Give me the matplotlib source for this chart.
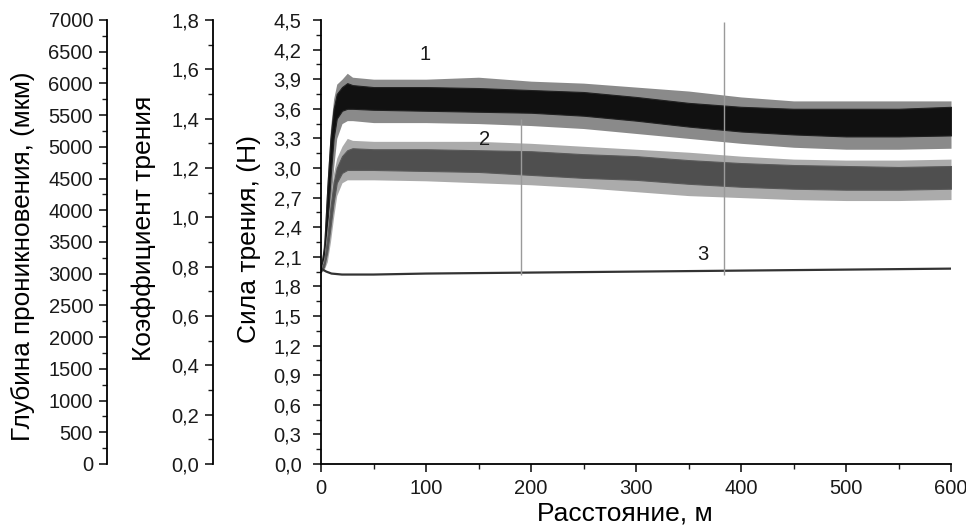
import matplotlib
matplotlib.use('Agg')
import matplotlib.pyplot as plt
from matplotlib.ticker import MultipleLocator, FuncFormatter

plt.rcParams.update({'font.family': ['Liberation Sans', 'DejaVu Sans'], 'font.size': 14.5,
                     'axes.linewidth': 1.3, 'xtick.major.width': 1.2, 'ytick.major.width': 1.2,
                     'xtick.minor.width': 1.0, 'ytick.minor.width': 1.0,
                     'text.color': '#1a1a1a', 'xtick.color': '#1a1a1a', 'ytick.color': '#1a1a1a'})

# distance, m (envelope sample points)
dist = [0, 3, 6, 9, 12, 15, 20, 25, 30, 50, 100, 150, 200, 250, 300, 350, 400, 450, 500, 550, 600]

# curve 1 - friction force band (core and spike envelopes), N
f1_core_top = [2.0, 2.2, 2.8, 3.3, 3.6, 3.75, 3.82, 3.86, 3.84, 3.82, 3.82, 3.81, 3.79, 3.77, 3.72, 3.66, 3.62, 3.6, 3.6, 3.6, 3.62]
f1_core_bot = [1.98, 2.05, 2.4, 2.9, 3.3, 3.5, 3.58, 3.6, 3.6, 3.59, 3.58, 3.57, 3.56, 3.53, 3.48, 3.42, 3.37, 3.34, 3.32, 3.32, 3.33]
f1_spike_top = [2.0, 2.3, 2.9, 3.4, 3.7, 3.85, 3.9, 3.96, 3.92, 3.9, 3.9, 3.92, 3.88, 3.86, 3.82, 3.78, 3.72, 3.68, 3.68, 3.68, 3.68]
f1_spike_bot = [1.97, 2.0, 2.2, 2.6, 3.0, 3.3, 3.45, 3.48, 3.48, 3.46, 3.46, 3.45, 3.43, 3.4, 3.35, 3.3, 3.25, 3.21, 3.19, 3.19, 3.2]

# curve 2 - friction coefficient band (plotted on force scale)
f2_core_top = [1.97, 2.05, 2.3, 2.6, 2.85, 3.0, 3.12, 3.18, 3.2, 3.19, 3.19, 3.18, 3.17, 3.14, 3.12, 3.08, 3.05, 3.03, 3.02, 3.01, 3.02]
f2_core_bot = [1.95, 2.0, 2.15, 2.4, 2.65, 2.85, 2.95, 2.98, 2.98, 2.98, 2.97, 2.96, 2.93, 2.9, 2.88, 2.84, 2.81, 2.79, 2.78, 2.78, 2.79]
f2_spike_top = [1.98, 2.1, 2.4, 2.7, 2.95, 3.1, 3.22, 3.3, 3.28, 3.27, 3.27, 3.27, 3.25, 3.22, 3.19, 3.16, 3.12, 3.09, 3.08, 3.08, 3.09]
f2_spike_bot = [1.94, 1.97, 2.05, 2.25, 2.5, 2.72, 2.85, 2.88, 2.88, 2.88, 2.87, 2.85, 2.83, 2.8, 2.76, 2.72, 2.7, 2.68, 2.67, 2.67, 2.68]

# curve 3 - penetration depth (plotted on force scale)
d3_x = [0, 5, 10, 20, 50, 100, 200, 300, 400, 500, 600]
d3_y = [1.98, 1.95, 1.93, 1.92, 1.92, 1.93, 1.94, 1.95, 1.96, 1.97, 1.98]

# thin vertical marker lines
mark_x = [190, 384]
mark_lo = [1.92, 1.92]
mark_hi = [3.5, 4.48]

# curve number labels
lab_text = ['1', '2', '3']
lab_x = [99, 156, 364]
lab_y = [4.15, 3.29, 2.12]


def comma(fmt):
    return FuncFormatter(lambda v, p: format(v, fmt).replace('.', ','))


def side_axis(ax, offset, ylim, major, minor, fmt, label, label_xy, label_size):
    tw = ax.twinx()
    tw.yaxis.set_ticks_position('left')
    tw.yaxis.set_label_position('left')
    tw.spines['left'].set_position(('axes', offset))
    for s in ['top', 'bottom', 'right']:
        tw.spines[s].set_visible(False)
    tw.set_ylim(*ylim)
    tw.yaxis.set_major_locator(MultipleLocator(major))
    tw.yaxis.set_minor_locator(MultipleLocator(minor))
    tw.yaxis.set_major_formatter(comma(fmt))
    tw.tick_params(axis='y', which='major', length=6, pad=4)
    tw.tick_params(axis='y', which='minor', length=3.5)
    tw.set_ylabel(label, fontsize=label_size)
    tw.yaxis.set_label_coords(*label_xy)
    return tw


fig = plt.figure(figsize=(9.66, 5.26), dpi=100)
ax = fig.add_axes([0.3323, 0.1179, 0.6522, 0.8441])

ax.fill_between(dist, f1_spike_bot, f1_spike_top, color='#8a8a8a', lw=0)
ax.fill_between(dist, f1_core_bot, f1_core_top, color='#111111', lw=0.8, edgecolor='#222222')
ax.fill_between(dist, f2_spike_bot, f2_spike_top, color='#ababab', lw=0)
ax.fill_between(dist, f2_core_bot, f2_core_top, color='#4f4f4f', lw=0.8, edgecolor='#5a5a5a')
ax.plot(d3_x, d3_y, color='#333333', lw=1.6)
ax.vlines(mark_x, mark_lo, mark_hi, color='#9a9a9a', lw=1.0)
for t, x, y in zip(lab_text, lab_x, lab_y):
    ax.text(x, y, t, fontsize=14.5, ha='center', va='center')

ax.set_xlim(0, 600)
ax.set_ylim(0, 4.5)
ax.spines['top'].set_visible(False)
ax.spines['right'].set_visible(False)
ax.xaxis.set_major_locator(MultipleLocator(100))
ax.xaxis.set_minor_locator(MultipleLocator(50))
ax.yaxis.set_major_locator(MultipleLocator(0.3))
ax.yaxis.set_minor_locator(MultipleLocator(0.15))
ax.yaxis.set_major_formatter(comma('.1f'))
ax.tick_params(which='major', length=6, pad=5)
ax.tick_params(axis='y', which='major', pad=8)
ax.tick_params(which='minor', length=3.5)
ax.set_xlabel('Расстояние, м', fontsize=19, labelpad=3)
ax.xaxis.set_label_coords(0.483, -0.085)
ax.set_ylabel('Сила трения, (Н)', fontsize=19)
ax.yaxis.set_label_coords(-0.095, 0.506)

side_axis(ax, -108 / 630, (0, 1.8), 0.2, 0.1, '.1f', 'Коэффициент трения', (-0.262, 0.53), 19)
side_axis(ax, -214 / 630, (0, 7000), 500, 250, '.0f', 'Глубина проникновения, (мкм)', (-0.454, 0.467), 18.8)

fig.savefig('out.png', dpi=100)
